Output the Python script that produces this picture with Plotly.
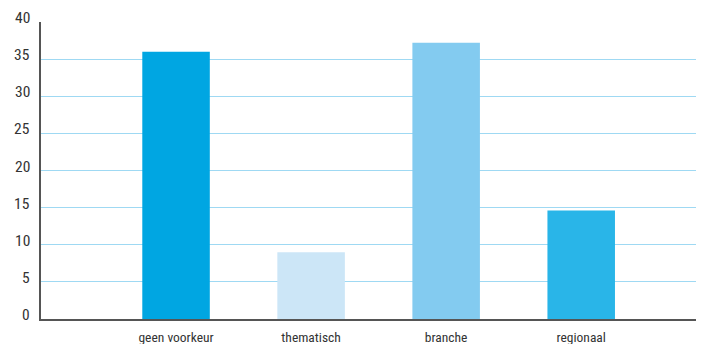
import plotly.graph_objects as go

categories = ["geen voorkeur", "thematisch", "branche", "regionaal"]
values = [36.0, 9.0, 37.2, 14.6]
bar_colors = ["#00a6e2", "#cce6f7", "#83cbf0", "#29b5e8"]
y_ticks = [0, 5, 10, 15, 20, 25, 30, 35, 40]

font_family = "Liberation Sans Narrow, Arial Narrow, Roboto Condensed, sans-serif"

fig = go.Figure(
    go.Bar(
        x=list(range(len(categories))),
        y=values,
        marker=dict(color=bar_colors, line=dict(width=0)),
        width=0.5,
    )
)

fig.update_layout(
    width=703,
    height=344,
    margin=dict(l=41, r=7, t=22, b=25),
    paper_bgcolor="white",
    plot_bgcolor="white",
    showlegend=False,
    font=dict(family=font_family, color="#333333"),
)

fig.update_xaxes(
    range=[-1, 3.85],
    tickmode="array",
    tickvals=list(range(len(categories))),
    ticktext=categories,
    tickfont=dict(size=13.5, color="#333333"),
    ticklabelstandoff=5,
    automargin=False,
    showgrid=False,
    showline=True,
    linecolor="#555555",
    linewidth=1.5,
    ticks="",
    zeroline=False,
)

fig.update_yaxes(
    range=[0, 40],
    tickmode="array",
    tickvals=y_ticks,
    showticklabels=False,
    automargin=False,
    showgrid=True,
    gridcolor="#9fd9f3",
    gridwidth=1.3,
    showline=True,
    linecolor="#555555",
    linewidth=1.5,
    ticks="",
    zeroline=False,
)

# y tick labels sit slightly above their gridlines
for t in y_ticks:
    fig.add_annotation(
        x=0, xref="paper", xanchor="right", xshift=-9,
        y=t, yref="y", yanchor="middle", yshift=4,
        text=str(t), showarrow=False,
        font=dict(size=15.5, color="#333333", family=font_family),
    )

fig.write_html("out.html")
